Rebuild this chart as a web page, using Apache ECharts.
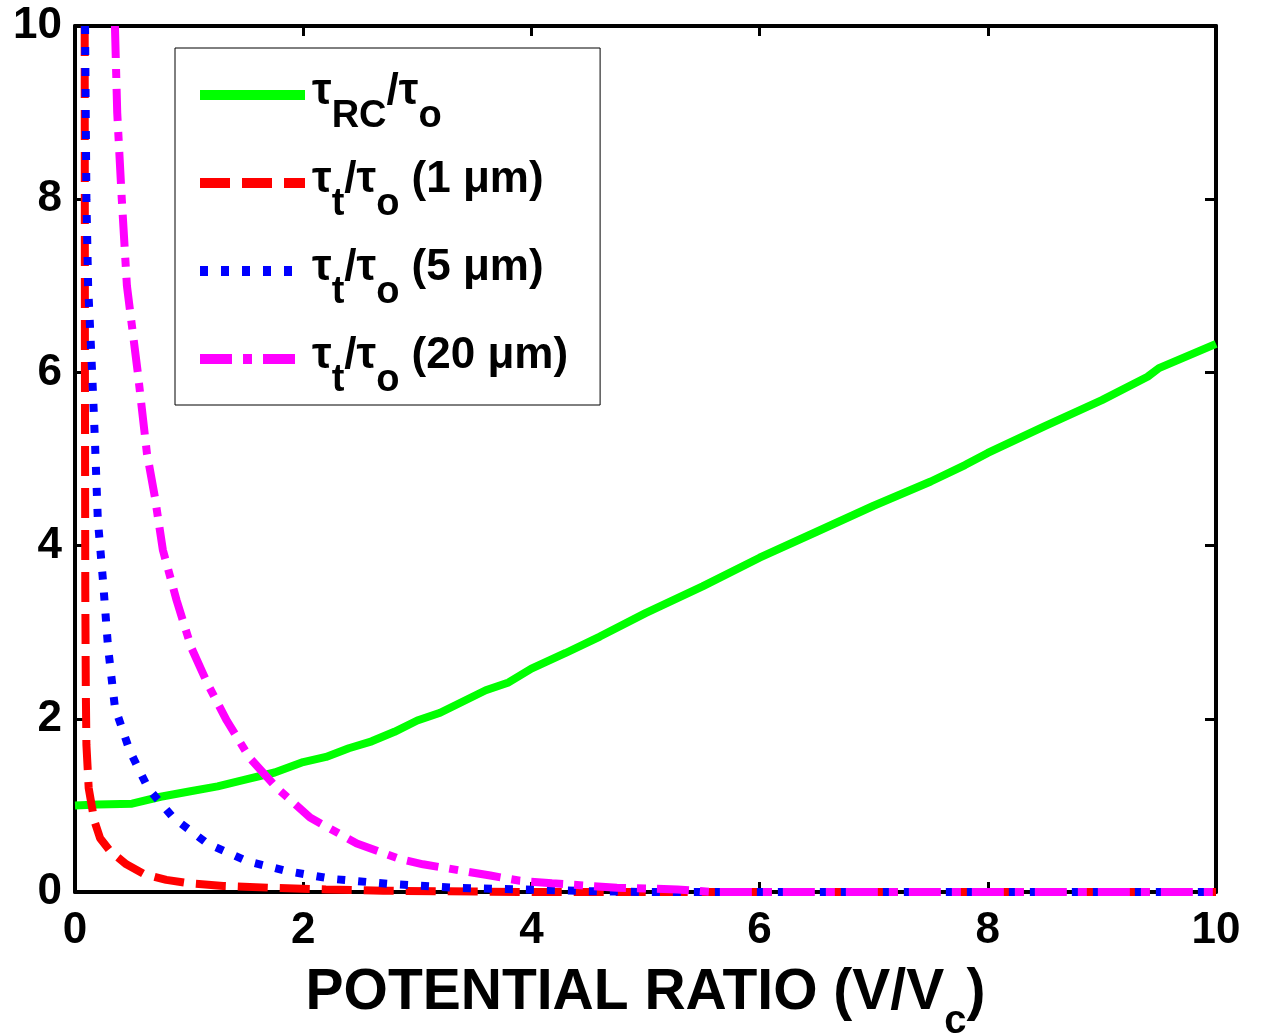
<!DOCTYPE html>
<html>
<head>
<meta charset="utf-8">
<script src="https://cdn.jsdelivr.net/npm/echarts@6.0.0/dist/echarts.min.js"></script>
<style>
html, body { margin: 0; padding: 0; background: #fff; }
#chart { width: 1261px; height: 1035px; }
</style>
</head>
<body>
<div id="chart"></div>
<script>
// values
var xTicks = [0, 2, 4, 6, 8, 10];
var yTicks = [0, 2, 4, 6, 8, 10];

var rcX = [0, 0.2, 0.5, 0.75, 1.0, 1.25, 1.5, 1.75, 2.0, 2.2, 2.4, 2.6, 2.8, 3.0, 3.2, 3.4, 3.6, 3.8, 4.0, 4.3, 4.6, 5.0, 5.5, 6.0, 6.5, 7.0, 7.5, 7.8, 8.0, 8.5, 9.0, 9.4, 9.5, 10];
var rcY = [1.0, 1.01, 1.02, 1.1, 1.16, 1.22, 1.3, 1.38, 1.5, 1.56, 1.66, 1.74, 1.85, 1.98, 2.07, 2.2, 2.33, 2.42, 2.58, 2.76, 2.95, 3.22, 3.53, 3.86, 4.16, 4.46, 4.74, 4.93, 5.07, 5.38, 5.68, 5.95, 6.05, 6.33];

var t1X = [0.085, 0.087, 0.09, 0.095, 0.1, 0.12, 0.17, 0.22, 0.31, 0.45, 0.6, 0.8, 1.0, 1.3, 1.7, 2.2, 2.7, 3.5, 4.0, 10];
var t1Y = [10, 6, 3.5, 2.3, 1.7, 1.2, 0.82, 0.62, 0.47, 0.32, 0.21, 0.14, 0.1, 0.07, 0.05, 0.03, 0.015, 0.005, 0, 0];

var t5X = [0.088, 0.1, 0.115, 0.15, 0.175, 0.2, 0.245, 0.29, 0.35, 0.48, 0.64, 0.86, 1.16, 1.5, 1.86, 2.26, 2.79, 3.3, 3.9, 4.5, 5.0, 10];
var t5Y = [10, 8, 7, 6, 5.2, 4.3, 3.6, 2.82, 2.13, 1.63, 1.2, 0.86, 0.56, 0.36, 0.24, 0.15, 0.09, 0.05, 0.03, 0.01, 0, 0];

var t20X = [0.35, 0.37, 0.41, 0.455, 0.55, 0.63, 0.7, 0.77, 0.89, 1.02, 1.16, 1.33, 1.53, 1.77, 2.06, 2.47, 2.85, 3.05, 3.64, 3.9, 4.18, 4.75, 5.28, 5.6, 10];
var t20Y = [10, 9, 8, 7, 6, 5.07, 4.56, 3.95, 3.37, 2.82, 2.41, 1.98, 1.55, 1.2, 0.86, 0.56, 0.38, 0.32, 0.19, 0.13, 0.1, 0.05, 0.03, 0, 0];

var seriesNames = ['rc', 't1', 't5', 't20'];
var legendLabels = {
    rc: '{f|τ}{s|RC}{m|/τ}{s|o}',
    t1: '{f|τ}{s|t}{m|/τ}{s|o}{m| (1 μm)}',
    t5: '{f|τ}{s|t}{m|/τ}{s|o}{m| (5 μm)}',
    t20: '{f|τ}{s|t}{m|/τ}{s|o}{m| (20 μm)}'
};

function zip(xs, ys) {
    return xs.map(function (x, i) { return [x, ys[i]]; });
}

var font = 'Liberation Sans, Arial, sans-serif';
var chart = echarts.init(document.getElementById('chart'), null, { renderer: 'canvas' });

var option = {
    backgroundColor: '#fff',
    animation: false,
    grid: { left: 75, right: 45, top: 26, bottom: 143, containLabel: false, outerBoundsMode: 'none' },
    legend: {
        data: seriesNames,
        orient: 'vertical',
        left: 175,
        top: 48,
        padding: [6, 32, 5, 20],
        itemGap: 6,
        itemWidth: 105,
        itemHeight: 14,
        backgroundColor: '#fff',
        borderColor: '#000',
        borderWidth: 1,
        borderRadius: 0,
        itemStyle: { opacity: 0 },
        lineStyle: { width: 10 },
        formatter: function (name) { return legendLabels[name]; },
        textStyle: {
            color: '#000',
            rich: {
                f: { fontSize: 44, fontWeight: 'bold', fontFamily: font, color: '#000', lineHeight: 40, padding: [0, 0, 6, 2] },
                m: { fontSize: 44, fontWeight: 'bold', fontFamily: font, color: '#000', lineHeight: 40, padding: [0, 0, 6, 0] },
                s: { fontSize: 38, fontWeight: 'bold', fontFamily: font, color: '#000', lineHeight: 40, padding: [44, 0, 0, 0] }
            }
        }
    },
    xAxis: [{
        type: 'value',
        min: 0, max: 10, interval: 2,
        position: 'bottom',
        name: '{m|POTENTIAL RATIO (V/V}{s|c}{m|)}',
        nameLocation: 'middle',
        nameGap: 67,
        nameTextStyle: {
            rich: {
                m: { fontSize: 57, fontWeight: 'bold', fontFamily: font, color: '#000', lineHeight: 60, padding: [0, 0, 14, 0] },
                s: { fontSize: 40, fontWeight: 'bold', fontFamily: font, color: '#000', lineHeight: 60, padding: [44, 0, 0, 0] }
            }
        },
        axisLine: { show: true, onZero: false, lineStyle: { color: '#000', width: 4 } },
        axisTick: { show: true, inside: true, length: 10, lineStyle: { color: '#000', width: 3 } },
        axisLabel: { margin: 17, fontSize: 44, fontWeight: 'bold', fontFamily: font, color: '#000' },
        splitLine: { show: false }
    }, {
        type: 'value',
        min: 0, max: 10, interval: 2,
        position: 'top',
        axisLine: { show: true, onZero: false, lineStyle: { color: '#000', width: 4 } },
        axisTick: { show: true, inside: true, length: 10, lineStyle: { color: '#000', width: 3 } },
        axisLabel: { show: false },
        splitLine: { show: false }
    }],
    yAxis: [{
        type: 'value',
        min: 0, max: 10, interval: 2,
        position: 'left',
        axisLine: { show: true, onZero: false, lineStyle: { color: '#000', width: 4 } },
        axisTick: { show: true, inside: true, length: 10, lineStyle: { color: '#000', width: 3 } },
        axisLabel: { margin: 13, fontSize: 44, fontWeight: 'bold', fontFamily: font, color: '#000' },
        splitLine: { show: false }
    }, {
        type: 'value',
        min: 0, max: 10, interval: 2,
        position: 'right',
        axisLine: { show: true, onZero: false, lineStyle: { color: '#000', width: 4 } },
        axisTick: { show: true, inside: true, length: 11, lineStyle: { color: '#000', width: 3 } },
        axisLabel: { show: false },
        splitLine: { show: false }
    }],
    series: [{
        name: 'rc',
        type: 'line',
        symbol: 'none',
        clip: false,
        data: zip(rcX, rcY),
        lineStyle: { color: '#00ff00', width: 8, type: 'solid' },
        itemStyle: { color: '#00ff00' }
    }, {
        name: 't1',
        type: 'line',
        symbol: 'none',
        clip: false,
        data: zip(t1X, t1Y),
        lineStyle: { color: '#ff0000', width: 8, type: [30, 12] },
        itemStyle: { color: '#ff0000' }
    }, {
        name: 't5',
        type: 'line',
        symbol: 'none',
        clip: false,
        data: zip(t5X, t5Y),
        lineStyle: { color: '#0000ff', width: 8, type: [8, 13] },
        itemStyle: { color: '#0000ff' }
    }, {
        name: 't20',
        type: 'line',
        symbol: 'none',
        clip: false,
        data: zip(t20X, t20Y),
        lineStyle: { color: '#ff00ff', width: 8, type: [32, 11, 9, 11] },
        itemStyle: { color: '#ff00ff' }
    }]
};

chart.setOption(option);
</script>
</body>
</html>
